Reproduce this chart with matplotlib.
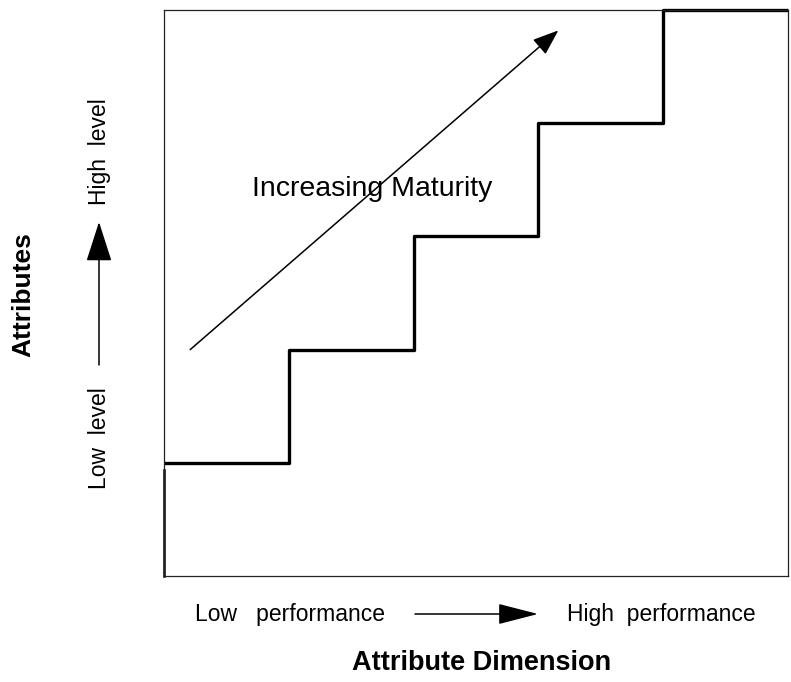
import numpy as np
import matplotlib
matplotlib.use('Agg')
import matplotlib.pyplot as plt

plt.rcParams['font.family'] = ['Liberation Sans', 'DejaVu Sans']

# 阶梯数据：属性维度（横向）与成熟度等级（纵向）
step_x = [0, 1, 2, 3, 4, 5]
step_levels = [1, 2, 3, 4, 5]

# 箭头 "Increasing Maturity" 的起点和终点
maturity_start = (0.21, 2.0)
maturity_end = (3.16, 4.82)

fig = plt.figure(figsize=(7.91, 6.82), dpi=100)
ax = fig.add_axes([0.2073, 0.1554, 0.7889, 0.8299])
ax.set_xlim(0, 5)
ax.set_ylim(0, 5)
ax.set_xticks([])
ax.set_yticks([])
for s in ax.spines.values():
    s.set_linewidth(0.9)
    s.set_color('#222222')

# 阶梯线
ax.plot(step_x, step_levels + [step_levels[-1]], drawstyle='steps-post',
        color='black', lw=2.4, clip_on=False, solid_capstyle='butt')
ax.plot([0, 0], [0, 0.94], color='black', lw=1.8, clip_on=False)

# 成熟度箭头
ax.annotate('', xy=maturity_end, xytext=maturity_start,
            arrowprops=dict(arrowstyle='-|>,head_length=1.6,head_width=0.6',
                            color='black', lw=1.1, shrinkA=0, shrinkB=0))
ax.text(1.67, 3.42, 'Increasing Maturity', fontsize=20.5, ha='center', va='center')

# 横轴说明
fig.text(195 / 791, 1 - 614 / 682, 'Low   performance', fontsize=16.5, ha='left', va='center')
fig.text(567 / 791, 1 - 614 / 682, 'High  performance', fontsize=16.5, ha='left', va='center')
fig.add_artist(matplotlib.patches.FancyArrowPatch(
    (415 / 791, 1 - 614 / 682), (538 / 791, 1 - 614 / 682), transform=fig.transFigure,
    arrowstyle='-|>,head_length=1.4,head_width=0.36', color='black', lw=1.1,
    mutation_scale=18, shrinkA=0, shrinkB=0))
fig.text(482 / 791, 1 - 663 / 682, 'Attribute Dimension', fontsize=19.5,
         fontweight='bold', ha='center', va='center')

# 纵轴说明
fig.text(23 / 791, 1 - 295 / 682, 'Attributes', fontsize=19, fontweight='bold',
         rotation=90, ha='center', va='center')
fig.text(100 / 791, 1 - 438 / 682, 'Low  level', fontsize=16.5, rotation=90,
         ha='center', va='center')
fig.text(100 / 791, 1 - 152 / 682, 'High  level', fontsize=16.5, rotation=90,
         ha='center', va='center')
fig.add_artist(matplotlib.patches.FancyArrowPatch(
    (99 / 791, 1 - 365 / 682), (99 / 791, 1 - 222 / 682), transform=fig.transFigure,
    arrowstyle='-|>,head_length=1.4,head_width=0.45', color='black', lw=1.1,
    mutation_scale=18, shrinkA=0, shrinkB=0))

fig.savefig('out.png', dpi=100)
